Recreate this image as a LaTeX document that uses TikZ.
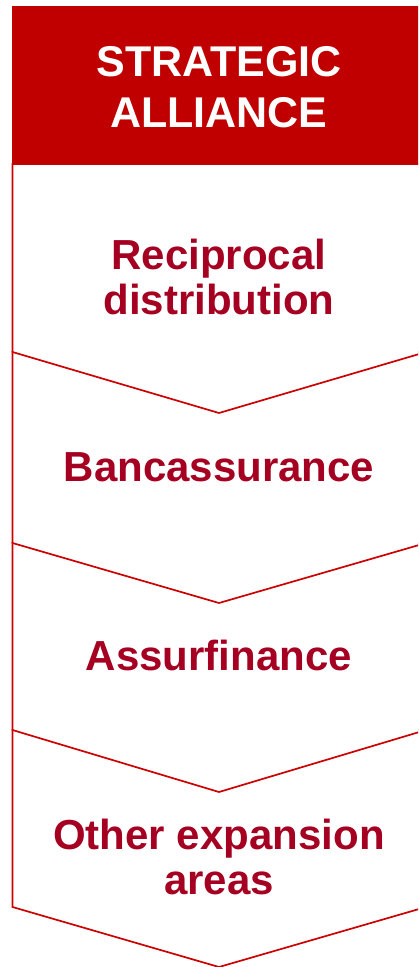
\documentclass[tikz,border=0pt]{standalone}
\usepackage{fontspec}
\setmainfont{Liberation Sans}
\definecolor{hdrred}{HTML}{C00000}
\definecolor{linered}{HTML}{CC0000}
\definecolor{txtred}{HTML}{A50021}
\begin{document}
\begin{tikzpicture}[x=1pt,y=-1pt,
  chev/.style={draw=linered,fill=white,line width=1.7pt,line join=miter},
  hdrtext/.style={text=white,font=\bfseries\fontsize{43}{51}\selectfont,align=center,inner sep=0pt,anchor=base},
  bodytext/.style={text=txtred,font=\bfseries\fontsize{42}{45}\selectfont,align=center,inner sep=0pt,anchor=base}]
\useasboundingbox (0,0) rectangle (418,967);
\clip (0,0) rectangle (418,967);
% chevrons, drawn bottom-up so each upper one covers the next one's top
\path[chev] (12.5,730) -- (12.5,907) -- (219,967) -- (426,907) -- (426,730) -- cycle;
\path[chev] (12.5,543) -- (12.5,730) -- (219,792) -- (426,730) -- (426,543) -- cycle;
\path[chev] (12.5,352) -- (12.5,543) -- (219,603) -- (426,543) -- (426,352) -- cycle;
\path[chev] (12.5,164) -- (12.5,352) -- (219,413) -- (426,352) -- (426,164) -- cycle;
% header
\fill[hdrred] (12,6) rectangle (426,164);
\node[hdrtext] (hdr) at (219,127) {STRATEGIC\\ALLIANCE};
\node[bodytext] (recip) at (219,314) {Reciprocal\\distribution};
\node[bodytext] (banc) at (219,481) {Bancassurance};
\node[bodytext] (assur) at (219,670) {Assurfinance};
\node[bodytext] (other) at (219,894) {Other expansion\\areas};
\end{tikzpicture}
\end{document}
